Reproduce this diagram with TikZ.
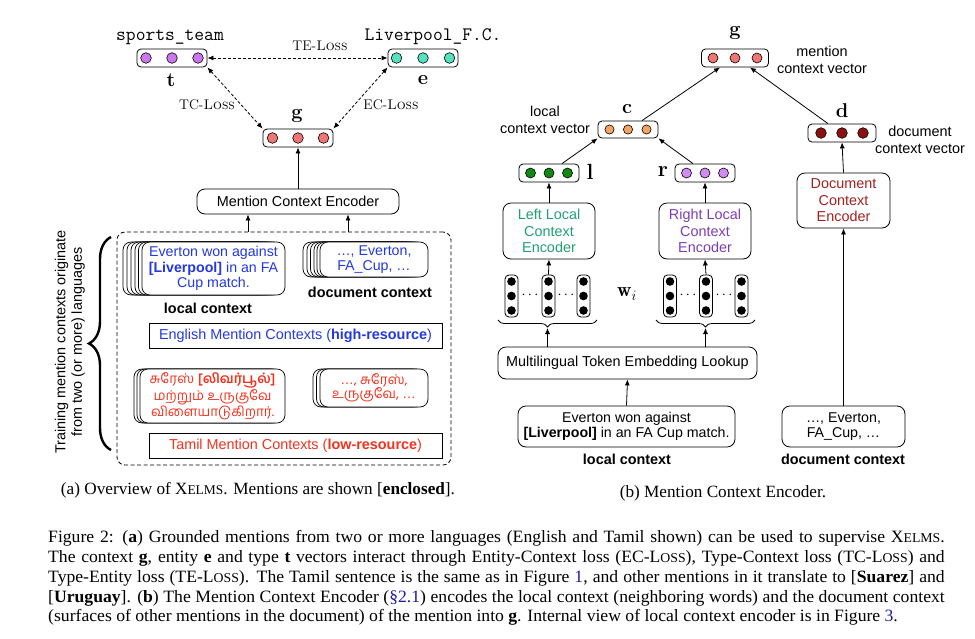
\documentclass[tikz,border=0pt]{standalone}
\usepackage{fontspec}
\setsansfont{Liberation Sans}
\newfontfamily\timesf{Liberation Serif}
\newfontfamily\tamilf[Script=Tamil]{Hind Madurai}
\usepackage{graphicx}
\usetikzlibrary{arrows.meta,decorations.pathreplacing,calc}
\definecolor{engblue}{HTML}{2438E0}
\definecolor{tamred}{HTML}{F0321E}
\definecolor{ct}{HTML}{CC77EE}
\definecolor{ce}{HTML}{55E0C0}
\definecolor{cg}{HTML}{F07575}
\definecolor{cc}{HTML}{F5A263}
\definecolor{cl}{HTML}{118811}
\definecolor{cd}{HTML}{8E1111}
\definecolor{cr}{HTML}{D08CF2}
\definecolor{llcol}{HTML}{1FA070}
\definecolor{rlcol}{HTML}{7D3CB5}
\definecolor{dccol}{HTML}{A32020}
\definecolor{refblue}{HTML}{1A1AA0}
\newcommand\sftxt{\sffamily\fontsize{14.2}{15.6}\selectfont}
\newcommand\tamtxt{\tamilf\fontsize{13.5}{14.4}\selectfont}
\tikzset{
 vbox/.style={draw, rounded corners=4pt, minimum height=18pt, inner sep=0pt, line width=0.8pt},
 rbox/.style={draw, rounded corners=8pt, inner sep=0pt, line width=0.8pt, align=center},
 sqbox/.style={draw, inner sep=0pt, line width=1pt, align=center},
 stkbox/.style={draw, fill=white, rounded corners=8pt, inner sep=0pt, line width=0.7pt, align=center},
 sf/.style={font=\sffamily\fontsize{14.4}{16.5}\selectfont, align=center},
 sftext/.style={font=\sftxt, align=center},
 lmlab/.style={font=\fontsize{14}{16}\selectfont},
 bigl/.style={font=\fontsize{20}{20}\selectfont\bfseries},
 ttlab/.style={font=\ttfamily\fontsize{19}{19}\selectfont},
 subcap/.style={font=\timesf\fontsize{17.2}{19}\selectfont},
 arr/.style={-{Latex[length=6pt,width=5pt]}, line width=0.8pt},
 darr/.style={{Latex[length=6pt,width=5pt]}-{Latex[length=6pt,width=5pt]}, line width=0.8pt, dash pattern=on 3pt off 2pt},
}
\newcommand\vecbox[7]{%
  \node[vbox, minimum width=#4pt] (#1) at (#2,#3) {};
  \foreach \dx in {-#5,0,#5} \draw[fill=#6, line width=0.6pt] ([xshift=\dx pt]#1.center) circle (#7pt);
}
\newcommand\wcol[3]{%
  \node[draw, rounded corners=4pt, minimum width=13pt, minimum height=42pt, inner sep=0pt, line width=0.8pt] (#1) at (#2,#3) {};
  \foreach \dy in {-14.5,0,14.5} \fill ([yshift=\dy pt]#1.center) circle (4.3pt);
}
\newcommand\stk[8]{%
  \foreach \o in {#6} \node[stkbox, minimum width=#4pt, minimum height=#5pt] at (#2-\o,#3) {};
  \node[stkbox, minimum width=#4pt, minimum height=#5pt, #7] (#1) at (#2,#3) {#8};
}
\newcommand\fsc[1]{\scalebox{0.78}{#1}}
\newcommand\capline[1]{\scalebox{1.02}[1]{\makebox[879pt][s]{#1}}}
\begin{document}
\begin{tikzpicture}[x=1pt,y=-1pt]
\useasboundingbox (0,0) rectangle (975,638);
% ---------------- left panel ----------------
\vecbox{t}{172}{58}{70}{26}{ct}{5.3}
\vecbox{e}{423}{58}{70}{26.5}{ce}{5.3}
\vecbox{g}{298}{138}{70}{25.5}{cg}{5.3}
\node[ttlab] (tname) at (170,37) {sports\_team};
\node[ttlab] (ename) at (433,37) {Liverpool\_F.C.};
\node[bigl] (tl) at (171,80) {t};
\node[bigl] (el) at (423,80) {e};
\node[bigl] (gl) at (297,116) {g};
\node[lmlab] (te) at (320,46) {TE-\textsc{Loss}};
\node[lmlab] (tc) at (207,105) {TC-\textsc{Loss}};
\node[lmlab] (ec) at (391,105) {EC-\textsc{Loss}};
\draw[darr] (t.east) -- (e.west);
\draw[darr] (t.south east) -- (g.north west);
\draw[darr] (e.south west) -- (g.north east);

\node[rbox, sf, minimum width=202pt, minimum height=25pt] (mce) at (298,201.5) {Mention Context Encoder};
\draw[arr] (mce.north) -- (g.south);

\node[draw, dash pattern=on 4pt off 2.5pt, rounded corners=8pt, line width=0.8pt, minimum width=334pt, minimum height=233pt, inner sep=0pt] (cont) at (284,348.5) {};
\coordinate (m1) at ([xshift=-50pt]mce.south);
\coordinate (m2) at ([xshift=50pt]mce.south);
\draw[arr] (m1 |- cont.north) -- (m1);
\draw[arr] (m2 |- cont.north) -- (m2);

\stk{elc}{213.5}{268.5}{143}{53}{19,15,11,7,3.5}{font=\sftxt, text=engblue}{Everton won against\\\textbf{[Liverpool]} in an FA\\Cup match.}
\node[sf] (elcl) at (208,308) {\bfseries local context};
\stk{edc}{374}{259.5}{108}{35}{17,13,9.5,6,3}{font=\sftxt, text=engblue}{…, Everton,\\FA\_Cup, …}
\node[sf] (edcl) at (370,292) {\bfseries document context};
\node[sqbox, sf, minimum width=293pt, minimum height=25pt] (eng) at (295.5,335.5) {\color{engblue}English Mention Contexts (\textbf{high-resource})};

\stk{tlc}{212.5}{396}{145}{54}{6,3}{font=\tamtxt, text=tamred}{சுரேஸ் \textbf{[லிவர்பூல்]}\\மற்றும் உருகுவே\\விளையாடுகிறார்.}
\stk{tdc}{374}{388}{108}{38}{7,3.5}{font=\tamtxt, text=tamred}{{\sffamily …}, சுரேஸ்,\\உருகுவே, {\sffamily …}}
\node[sqbox, sf, minimum width=293pt, minimum height=25pt] (tam) at (295.5,445.5) {\color{tamred}Tamil Mention Contexts (\textbf{low-resource})};

\coordinate (brb) at (111,450);
\coordinate (brt) at (111,237);
\draw[decorate, decoration={brace, amplitude=22pt}, line width=2.4pt] (brb) -- (brt);
\node[sf, rotate=90] (brtext) at (70,342) {Training mention contexts originate\\from two (or more) languages};

\node[subcap] (capa) at (258,490) {(a) Overview of X\fsc{ELMS}. Mentions are shown [\textbf{enclosed}].};

% ---------------- right panel ----------------
\vecbox{g2}{735}{58}{67}{22}{cg}{5}
\node[bigl] (g2l) at (735,33) {g};
\node[sf] (mcv) at (822,60) {mention\\context vector};
\node[vbox, minimum width=60pt, minimum height=17pt] (c) at (628,129.5) {};
\foreach \dx in {-18.5,0,18.5} \draw[fill=cc, line width=0.6pt] ([xshift=\dx pt]c.center) circle (4.6pt);
\node[bigl] (cl) at (627,109) {c};
\node[sf] (lcv) at (545,120) {local\\context vector};
\vecbox{d}{842}{133}{68}{21}{cd}{5.3}
\node[bigl] (dl) at (842,111) {d};
\node[sf] (dcv) at (920,140) {document\\context vector};
\draw[arr] ([xshift=14pt]c.north) -- ([xshift=-15pt]g2.south);
\draw[arr] ([xshift=-14pt]d.north) -- ([xshift=15pt]g2.south);

\vecbox{l}{549}{173}{60}{18.5}{cl}{5}
\vecbox{r}{705}{173}{60}{18.5}{cr}{5}
\node[bigl, font=\fontsize{22}{22}\selectfont\bfseries] (ll) at (590,172) {l};
\node[bigl, font=\fontsize{22}{22}\selectfont\bfseries] (rl) at (663,172) {r};
\draw[arr] ([xshift=13pt]l.north) -- (c.south west);
\draw[arr] ([xshift=-12pt]r.north) -- (c.south east);

\node[rbox, sf, text=llcol, minimum width=92pt, minimum height=56pt] (llce) at (549,231) {Left Local\\Context\\Encoder};
\node[rbox, sf, text=rlcol, minimum width=92pt, minimum height=56pt] (rlce) at (705,231) {Right Local\\Context\\Encoder};
\node[rbox, sf, text=dccol, minimum width=93pt, minimum height=55pt] (dce) at (843.5,200.5) {Document\\Context\\Encoder};
\draw[arr] (llce.north) -- (l.south);
\draw[arr] (rlce.north) -- (r.south);
\draw[arr] (dce.north) -- (d.south);

\wcol{lc1}{511.5}{296}
\wcol{lc2}{548.5}{296}
\wcol{lc3}{583.5}{296}
\wcol{rc1}{670}{296}
\wcol{rc2}{706}{296}
\wcol{rc3}{741.5}{296}
\node[font=\fontsize{14}{14}\selectfont] (ld1) at (530,295) {$\cdots$};
\node[font=\fontsize{14}{14}\selectfont] (ld2) at (566,295) {$\cdots$};
\node[font=\fontsize{14}{14}\selectfont] (rd1) at (688,295) {$\cdots$};
\node[font=\fontsize{14}{14}\selectfont] (rd2) at (724,295) {$\cdots$};
\node[font=\fontsize{20}{20}\selectfont] (wi) at (627,294) {$\mathbf{w}_i$};
\draw[arr] (lc2.north) -- (llce.south);
\draw[arr] (rc2.north) -- (rlce.south);
\draw[decorate, decoration={brace, amplitude=7pt}, line width=0.8pt] (597,320) -- (498,320);
\draw[decorate, decoration={brace, amplitude=7pt}, line width=0.8pt] (755,320) -- (656,320);
\coordinate (bl) at (547.5,328);
\coordinate (br) at (705.5,328);

\node[rbox, sf, minimum width=259pt, minimum height=32pt] (mtel) at (627.5,363) {Multilingual Token Embedding Lookup};
\draw[arr] (bl |- mtel.north) -- (bl);
\draw[arr] (br |- mtel.north) -- (br);

\node[rbox, sftext, minimum width=217pt, minimum height=41pt] (rlc) at (626.5,426.5) {Everton won against\\\textbf{[Liverpool]} in an FA Cup match.};
\node[sf] (rlcl) at (627,459) {\bfseries local context};
\node[rbox, sftext, minimum width=123pt, minimum height=41pt] (rdc) at (843.5,426.5) {…, Everton,\\FA\_Cup, …};
\node[sf] (rdcl) at (843,459) {\bfseries document context};
\draw[arr] (rlc.north) -- (mtel.south);
\draw[arr] (rdc.north) -- (dce.south);

\node[subcap] (capb) at (723,493) {(b) Mention Context Encoder.};

% ---------------- caption ----------------
\begin{scope}[every node/.style={anchor=base west, inner sep=0pt, font=\timesf\fontsize{17.3}{20}\selectfont}]
\node (cap1) at (48,542.7) {\capline{Figure 2: (\textbf{a}) Grounded mentions from two or more languages (English and Tamil shown) can be used to supervise X\fsc{ELMS}.}};
\node (cap2) at (48,562.5) {\capline{The context \textbf{g}, entity \textbf{e} and type \textbf{t} vectors interact through Entity-Context loss (EC-L\fsc{OSS}), Type-Context loss (TC-L\fsc{OSS}) and}};
\node (cap3) at (48,582.3) {\capline{Type-Entity loss (TE-L\fsc{OSS}). The Tamil sentence is the same as in Figure \textcolor{refblue}{1}, and other mentions in it translate to [\textbf{Suarez}] and}};
\node (cap4) at (48,602) {\capline{[\textbf{Uruguay}]. (\textbf{b}) The Mention Context Encoder (\textcolor{refblue}{§2.1}) encodes the local context (neighboring words) and the document context}};
\node (cap5) at (48,621.8) {\scalebox{1.02}[1]{(surfaces of other mentions in the document) of the mention into \textbf{g}. Internal view of local context encoder is in Figure \textcolor{refblue}{3}.}};
\end{scope}
\end{tikzpicture}
\end{document}
